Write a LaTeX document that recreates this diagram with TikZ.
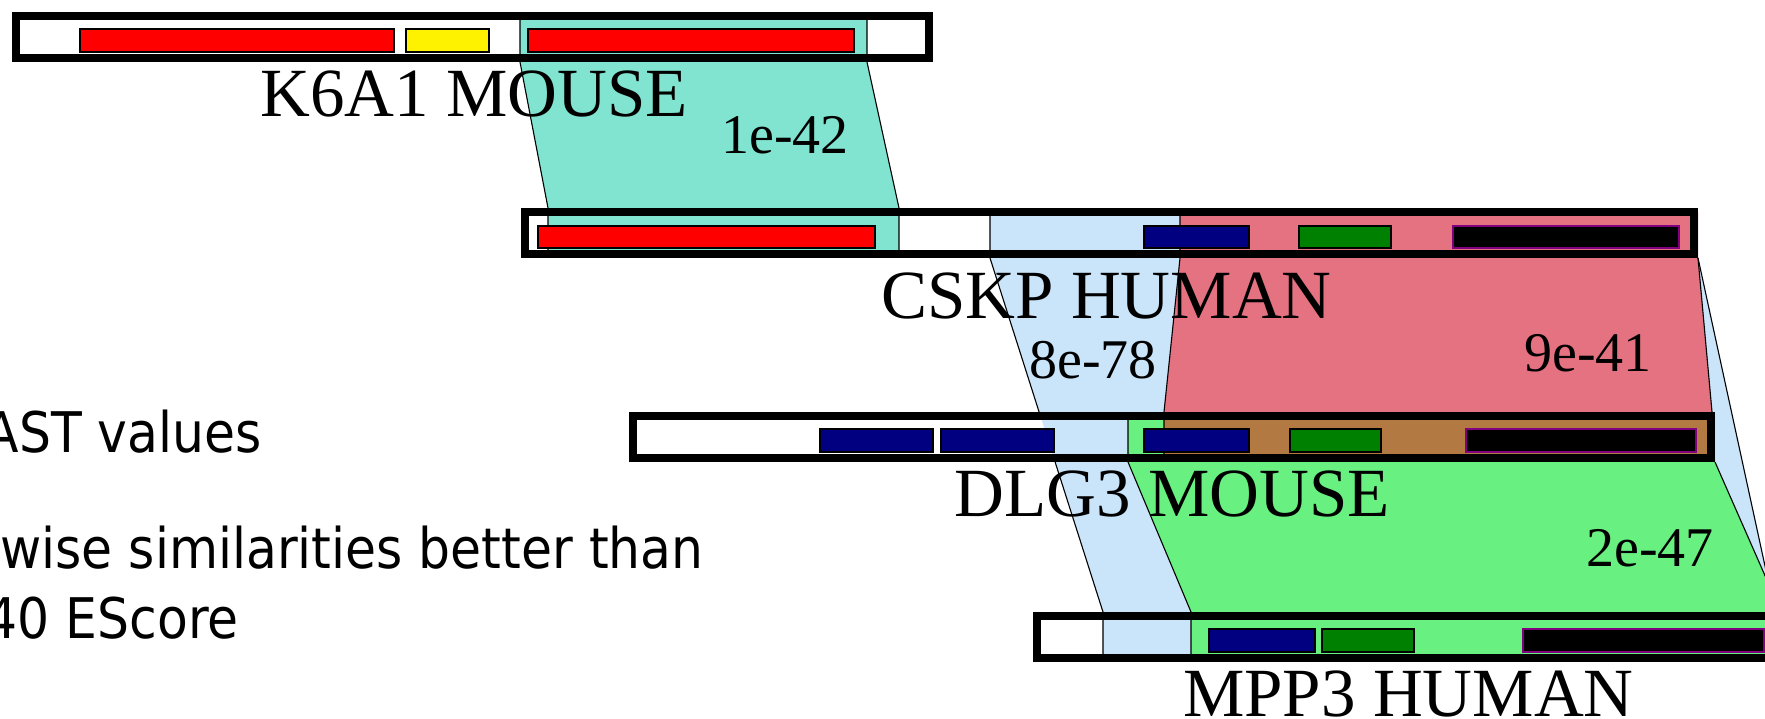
\documentclass[tikz,border=0pt]{standalone}
\usepackage{fontspec}
\setmainfont{Liberation Serif}
\newfontfamily\legendfont[FakeStretch=0.9]{DejaVu Sans}
\definecolor{tealA}{RGB}{128,228,208}
\definecolor{blueA}{RGB}{202,228,250}
\definecolor{pinkA}{RGB}{228,114,128}
\definecolor{greenA}{RGB}{104,240,128}
\definecolor{brownA}{RGB}{178,122,66}
\definecolor{navyD}{RGB}{0,0,128}
\definecolor{greenD}{RGB}{0,128,0}
\definecolor{purpleD}{RGB}{128,0,128}
\tikzset{
  bar/.style={draw=black, line width=8pt},
  dom/.style={draw=black, line width=1.3pt},
  domk/.style={draw=purpleD, fill=black, line width=1.3pt},
  aln/.style={draw=black, line width=1.1pt},
  protlabel/.style={font=\fontsize{69}{80}\selectfont, anchor=base, inner sep=0pt},
  evlabel/.style={font=\fontsize{56}{64}\selectfont, anchor=base, inner sep=0pt},
  leglabel/.style={font=\legendfont\fontsize{56}{64}\selectfont, anchor=base east, inner sep=0pt}
}
\begin{document}
\begin{tikzpicture}[x=1pt,y=-1pt]
\useasboundingbox (0,0) rectangle (1765,719);
\fill[white] (0,0) rectangle (1765,719);
\begin{scope}
\clip (0,0) rectangle (1765,719);
% alignment regions
\fill[blueA] (990,212) -- (1698,212) -- (1698,258) -- (1775,612) -- (1800,612) -- (1800,658) -- (1103,658) -- (1103,612) -- (990,258) -- cycle;
\fill[tealA] (520,16) -- (867,16) -- (867,62) -- (899,208) -- (899,254) -- (548,254) -- (548,208) -- (520,62) -- cycle;
\fill[pinkA] (1180,212) -- (1698,212) -- (1698,258) -- (1712,412) -- (1712,458) -- (1164,458) -- (1164,412) -- (1180,258) -- cycle;
\fill[greenA] (1128,416) -- (1715,416) -- (1715,462) -- (1781,612) -- (1800,612) -- (1800,658) -- (1191,658) -- (1191,612) -- (1128,462) -- cycle;
\fill[brownA] (1164,416) rectangle (1711,458);
% alignment edges
\draw[aln] (520,16) -- (520,62) -- (548,208) -- (548,254);
\draw[aln] (867,16) -- (867,62) -- (899,208) -- (899,254);
\draw[aln] (990,212) -- (990,258) -- (1039.1,412);
\draw[aln] (1055.1,462) -- (1103,612) -- (1103,658);
\draw[aln] (1698,258) -- (1775,612);
\draw[aln] (1180,212) -- (1180,258) -- (1164,412) -- (1164,458);
\draw[aln] (1698,258) -- (1712,412);
\draw[aln] (1128,416) -- (1128,462) -- (1191,612) -- (1191,658);
\draw[aln] (1715,462) -- (1781,612);
% domains K6A1
\draw[dom, fill=red] (80,29) rectangle (394,52);
\draw[dom, fill=yellow] (406,29) rectangle (489,52);
\draw[dom, fill=red] (528,29) rectangle (854,52);
% domains CSKP
\draw[dom, fill=red] (538,226) rectangle (875,248);
\draw[dom, fill=navyD] (1144,226) rectangle (1249,248);
\draw[dom, fill=greenD] (1299,226) rectangle (1391,248);
\draw[domk] (1453,226) rectangle (1679,248);
% domains DLG3
\draw[dom, fill=navyD] (820,429) rectangle (933,452);
\draw[dom, fill=navyD] (941,429) rectangle (1054,452);
\draw[dom, fill=navyD] (1144,429) rectangle (1249,452);
\draw[dom, fill=greenD] (1290,429) rectangle (1381,452);
\draw[domk] (1466,429) rectangle (1696,452);
% domains MPP3
\draw[dom, fill=navyD] (1209,629) rectangle (1315,652);
\draw[dom, fill=greenD] (1322,629) rectangle (1414,652);
\draw[domk] (1523,629) rectangle (1764,652);
% bars
\draw[bar] (16,16) rectangle (929,58);
\draw[bar] (525,212) rectangle (1694,254);
\draw[bar] (633,416) rectangle (1711,458);
\draw[bar] (1037,616) rectangle (1780,658);
% labels
\node[protlabel] (nK) at (474,117) {K6A1 MOUSE};
\node[protlabel] (nC) at (1106.5,319) {CSKP HUMAN};
\node[protlabel] (nD) at (1172.5,516.5) {DLG3 MOUSE};
\node[protlabel] (nM) at (1408.5,716) {MPP3 HUMAN};
\node[evlabel] (e1) at (785,154) {1e-42};
\node[evlabel] (e2) at (1093,378) {8e-78};
\node[evlabel] (e3) at (1588,371) {9e-41};
\node[evlabel] (e4) at (1650,566.5) {2e-47};
\node[leglabel] (l1) at (262,452) {AST values};
\node[leglabel] (l2) at (704,568) {wise similarities better than};
\node[leglabel] (l3) at (239,638) {40 EScore};
\end{scope}
\end{tikzpicture}
\end{document}
